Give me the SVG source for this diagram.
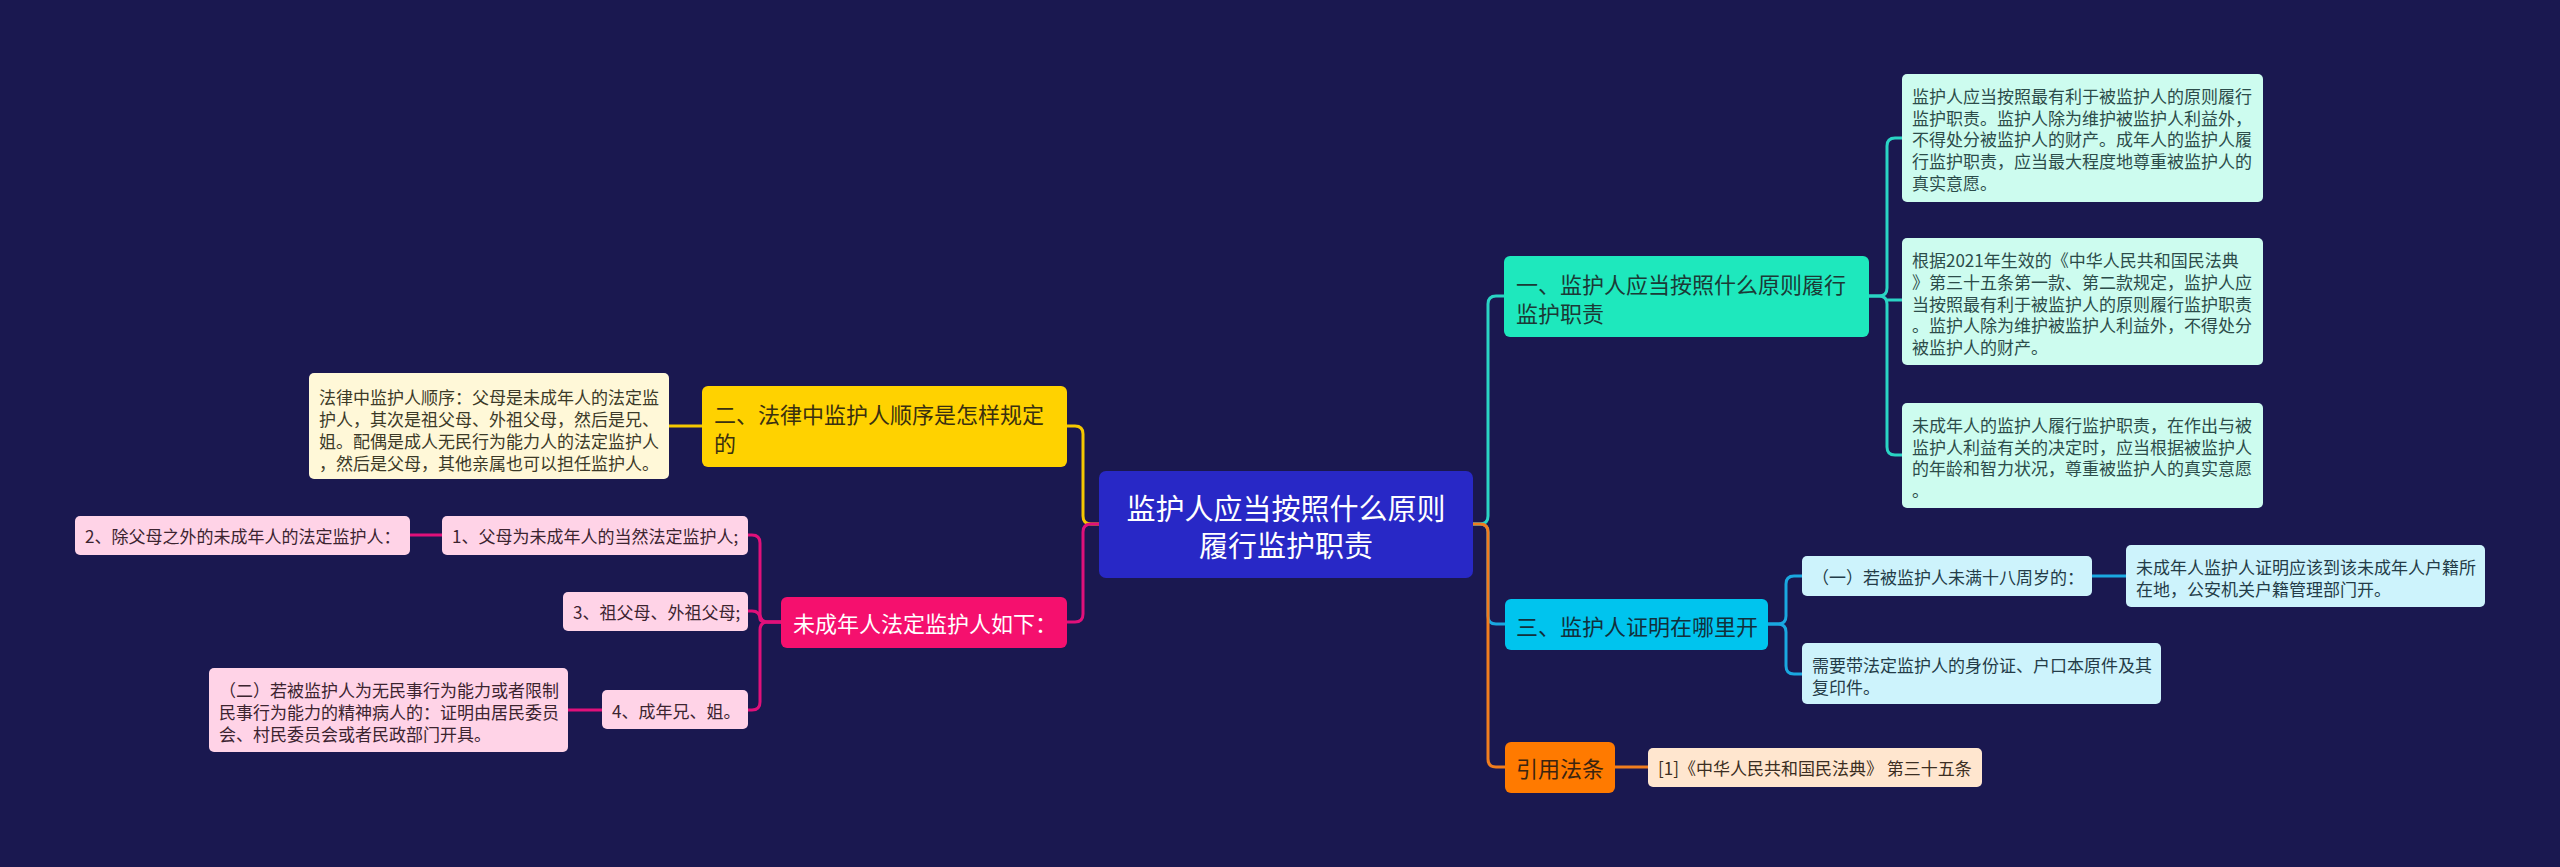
<svg xmlns="http://www.w3.org/2000/svg" width="2560" height="867" viewBox="0 0 2560 867">
<style>
text{font-family:"Noto Sans CJK SC","Noto Sans",sans-serif;dominant-baseline:central}
.t17{font-size:17px}
.t22{font-size:22px}
.root-t{font-size:29px;fill:#ffffff}
.ln{fill:none;stroke-width:3;stroke-linecap:round}
.dk{fill:#2b2b2b}
</style>
<rect width="2560" height="867" fill="#1a1850"/>
<g id="connectors">
  <!-- right side -->
  <path class="ln" stroke="#2ad4c4" d="M1473 524 H1480 Q1488 524 1488 516 V304 Q1488 296 1496 296 H1504"/>
  <path class="ln" stroke="#1aa8e0" d="M1473 524 H1480 Q1488 524 1488 532 V616 Q1488 624 1496 624 H1505"/>
  <path class="ln" stroke="#f07d1e" d="M1473 524 H1480 Q1488 524 1488 532 V759 Q1488 767 1496 767 H1505"/>
  <path class="ln" stroke="#2ad4c4" d="M1869 296 H1879 Q1887 296 1887 288 V146 Q1887 138 1895 138 H1902"/>
  <path class="ln" stroke="#2ad4c4" d="M1869 296 H1879 Q1887 296 1887 304 V447 Q1887 455 1895 455 H1902"/>
  <path class="ln" stroke="#2ad4c4" d="M1887 300 H1902"/>
  <path class="ln" stroke="#1aa8e0" d="M1768 624 H1778 Q1786 624 1786 616 V584 Q1786 576 1794 576 H1802"/>
  <path class="ln" stroke="#1aa8e0" d="M1768 624 H1778 Q1786 624 1786 632 V666 Q1786 674 1794 674 H1802"/>
  <path class="ln" stroke="#1aa8e0" d="M2092 576 H2126"/>
  <path class="ln" stroke="#f07d1e" d="M1615 767 H1648"/>
  <!-- left side -->
  <path class="ln" stroke="#f5c800" d="M1099 524 H1091 Q1083 524 1083 516 V434 Q1083 426 1075 426 H1067"/>
  <path class="ln" stroke="#e0107a" d="M1099 524 H1091 Q1083 524 1083 532 V614 Q1083 622 1075 622 H1067"/>
  <path class="ln" stroke="#f5c800" d="M702 426 H669"/>
  <path class="ln" stroke="#e0107a" d="M781 622 H768 Q760 622 760 614 V543 Q760 535 752 535 H748"/>
  <path class="ln" stroke="#e0107a" d="M781 622 H768 Q760 622 760 619 V619 Q760 611 752 611 H748"/>
  <path class="ln" stroke="#e0107a" d="M781 622 H768 Q760 622 760 630 V702 Q760 710 752 710 H748"/>
  <path class="ln" stroke="#e0107a" d="M442 535 H410"/>
  <path class="ln" stroke="#e0107a" d="M602 710 H568"/>
</g>
<g id="root">
  <rect x="1099" y="471" width="374" height="107" rx="7" fill="#2828c6"/>
  <text class="root-t" x="1286" y="507" text-anchor="middle">监护人应当按照什么原则</text>
  <text class="root-t" x="1286" y="544" text-anchor="middle">履行监护职责</text>
</g>
<g id="branch1">
  <rect x="1504" y="256" width="365" height="81" rx="6" fill="#1ee8bd"/>
  <text class="t22" x="1516" y="283" fill="#1b3a36">一、监护人应当按照什么原则履行</text>
  <text class="t22" x="1516" y="312" fill="#1b3a36">监护职责</text>
</g>
<g id="leaf1a">
  <rect x="1902" y="74" width="361" height="128" rx="5" fill="#cdfcef"/>
  <g class="t17" fill="#2c4c4a">
  <text x="1912" y="95">监护人应当按照最有利于被监护人的原则履行</text>
  <text x="1912" y="117">监护职责。监护人除为维护被监护人利益外，</text>
  <text x="1912" y="138">不得处分被监护人的财产。成年人的监护人履</text>
  <text x="1912" y="160">行监护职责，应当最大程度地尊重被监护人的</text>
  <text x="1912" y="182">真实意愿。</text>
  </g>
</g>
<g id="leaf1b">
  <rect x="1902" y="238" width="361" height="127" rx="5" fill="#cdfcef"/>
  <g class="t17" fill="#2c4c4a">
  <text x="1912" y="259">根据2021年生效的《中华人民共和国民法典</text>
  <text x="1912" y="281">》第三十五条第一款、第二款规定，监护人应</text>
  <text x="1912" y="303">当按照最有利于被监护人的原则履行监护职责</text>
  <text x="1912" y="324">。监护人除为维护被监护人利益外，不得处分</text>
  <text x="1912" y="346">被监护人的财产。</text>
  </g>
</g>
<g id="leaf1c">
  <rect x="1902" y="403" width="361" height="105" rx="5" fill="#cdfcef"/>
  <g class="t17" fill="#2c4c4a">
  <text x="1912" y="424">未成年人的监护人履行监护职责，在作出与被</text>
  <text x="1912" y="446">监护人利益有关的决定时，应当根据被监护人</text>
  <text x="1912" y="467">的年龄和智力状况，尊重被监护人的真实意愿</text>
  <text x="1912" y="489">。</text>
  </g>
</g>
<g id="branch3">
  <rect x="1505" y="599" width="263" height="51" rx="6" fill="#00c4ee"/>
  <text class="t22" x="1516" y="625" fill="#12303c">三、监护人证明在哪里开</text>
</g>
<g id="sub3a">
  <rect x="1802" y="556" width="290" height="40" rx="5" fill="#cdf3fc"/>
  <text class="t17" x="1812" y="576" fill="#243c48">（一）若被监护人未满十八周岁的：</text>
</g>
<g id="leaf3a">
  <rect x="2126" y="545" width="359" height="62" rx="5" fill="#cdf3fc"/>
  <text class="t17" x="2136" y="566" fill="#243c48">未成年人监护人证明应该到该未成年人户籍所</text>
  <text class="t17" x="2136" y="588" fill="#243c48">在地，公安机关户籍管理部门开。</text>
</g>
<g id="sub3b">
  <rect x="1802" y="643" width="359" height="61" rx="5" fill="#cdf3fc"/>
  <text class="t17" x="1812" y="664" fill="#243c48">需要带法定监护人的身份证、户口本原件及其</text>
  <text class="t17" x="1812" y="686" fill="#243c48">复印件。</text>
</g>
<g id="branch4">
  <rect x="1505" y="742" width="110" height="51" rx="6" fill="#ff7a00"/>
  <text class="t22" x="1516" y="767" fill="#3a2410">引用法条</text>
</g>
<g id="leaf4">
  <rect x="1648" y="748" width="334" height="39" rx="5" fill="#ffe6cf"/>
  <text class="t17" x="1658" y="767" fill="#3c2e22">[1]《中华人民共和国民法典》 第三十五条</text>
</g>
<g id="branch2">
  <rect x="702" y="386" width="365" height="81" rx="6" fill="#ffd200"/>
  <text class="t22" x="714" y="413" fill="#3a3010">二、法律中监护人顺序是怎样规定</text>
  <text class="t22" x="714" y="442" fill="#3a3010">的</text>
</g>
<g id="leaf2">
  <rect x="309" y="373" width="360" height="106" rx="5" fill="#fff8d8"/>
  <g class="t17" fill="#3c3a28">
  <text x="319" y="396">法律中监护人顺序：父母是未成年人的法定监</text>
  <text x="319" y="418">护人，其次是祖父母、外祖父母，然后是兄、</text>
  <text x="319" y="440">姐。配偶是成人无民行为能力人的法定监护人</text>
  <text x="319" y="462">，然后是父母，其他亲属也可以担任监护人。</text>
  </g>
</g>
<g id="branch5">
  <rect x="781" y="597" width="286" height="51" rx="6" fill="#f5106e"/>
  <text class="t22" x="793" y="622" fill="#ffffff">未成年人法定监护人如下：</text>
</g>
<g id="p1">
  <rect x="442" y="516" width="306" height="39" rx="5" fill="#ffd3e7"/>
  <text class="t17" x="452" y="535" fill="#3c2430">1、父母为未成年人的当然法定监护人;</text>
</g>
<g id="p2">
  <rect x="75" y="516" width="335" height="39" rx="5" fill="#ffd3e7"/>
  <text class="t17" x="85" y="535" fill="#3c2430">2、除父母之外的未成年人的法定监护人：</text>
</g>
<g id="p3">
  <rect x="563" y="592" width="185" height="39" rx="5" fill="#ffd3e7"/>
  <text class="t17" x="573" y="611" fill="#3c2430">3、祖父母、外祖父母;</text>
</g>
<g id="p4">
  <rect x="602" y="690" width="146" height="39" rx="5" fill="#ffd3e7"/>
  <text class="t17" x="612" y="710" fill="#3c2430">4、成年兄、姐。</text>
</g>
<g id="p5">
  <rect x="209" y="668" width="359" height="84" rx="5" fill="#ffd3e7"/>
  <g class="t17" fill="#3c2430">
  <text x="219" y="689">（二）若被监护人为无民事行为能力或者限制</text>
  <text x="219" y="711">民事行为能力的精神病人的：证明由居民委员</text>
  <text x="219" y="733">会、村民委员会或者民政部门开具。</text>
  </g>
</g>
</svg>
